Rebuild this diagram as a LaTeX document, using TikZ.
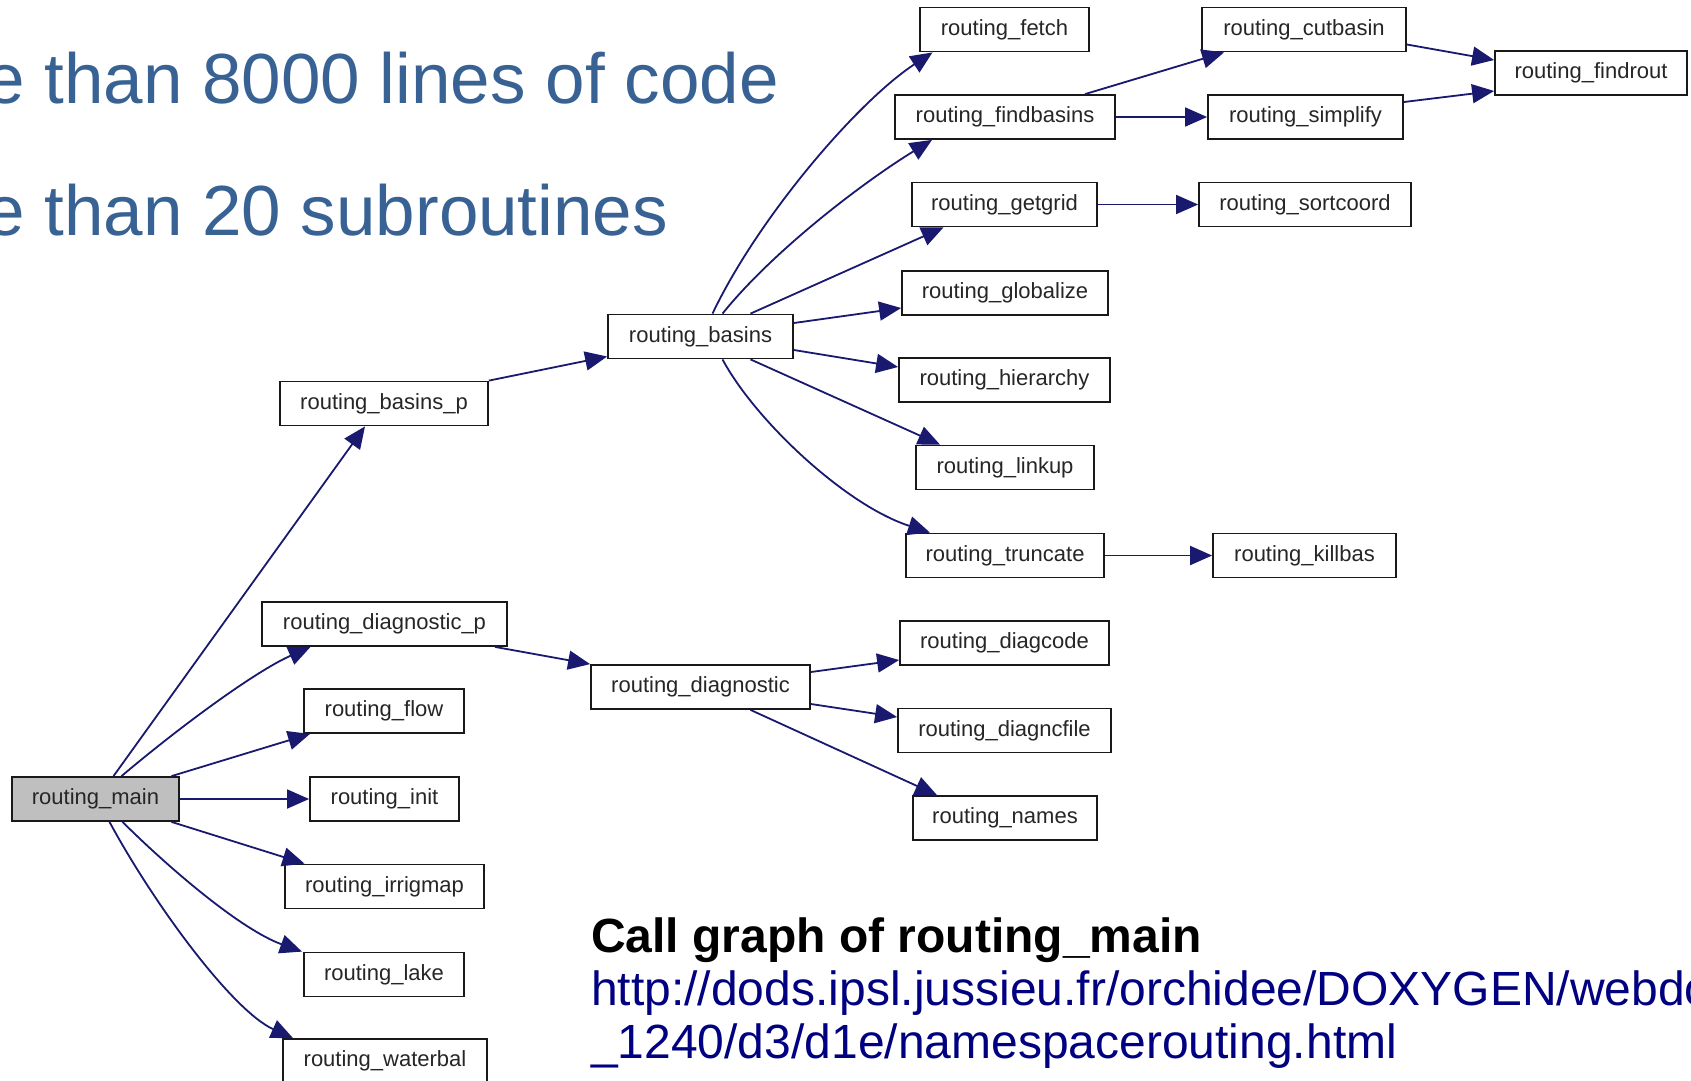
\documentclass[tikz,border=0pt]{standalone}
\usepackage{fontspec}
\setmainfont{Liberation Sans}
\usetikzlibrary{arrows.meta}
\definecolor{edgeblue}{HTML}{191970}
\definecolor{titleblue}{HTML}{386294}
\definecolor{urlblue}{HTML}{000080}
\definecolor{mainfill}{HTML}{BFBFBF}
\tikzset{
  fn/.style={draw=black!90, line width=1.8pt, fill=white, minimum height=44pt, inner sep=0pt,
    font=\fontsize{22}{26}\selectfont, text=black!85},
  call/.style={draw=edgeblue, line width=1.8pt, -{Triangle[length=22pt,width=19pt]}},
  bigtxt/.style={font=\fontsize{71}{80}\selectfont, text=titleblue, anchor=base west, inner sep=0pt},
  captxt/.style={anchor=base west, inner sep=0pt, font=\fontsize{48}{56}\selectfont},
}
\begin{document}
\begin{tikzpicture}[x=1pt,y=-1pt]
\useasboundingbox (0,0) rectangle (1691,1080);
\fill[white] (0,0) rectangle (1691,1080);

% header text (cut at left edge, as in the reference)
\node[bigtxt] (l1) at (-15,103) {e than 8000 lines of code};
\node[bigtxt] (l2) at (-15,235) {e than 20 subroutines};

% nodes
\node[fn, minimum width=169pt] (fetch) at (1004.5,29.5) {routing\_fetch};
\node[fn, minimum width=204pt] (cutbasin) at (1304,29.5) {routing\_cutbasin};
\node[fn, minimum width=192pt] (findrout) at (1591,73) {routing\_findrout};
\node[fn, minimum width=220pt] (findbasins) at (1005,117) {routing\_findbasins};
\node[fn, minimum width=195pt] (simplify) at (1305.5,117) {routing\_simplify};
\node[fn, minimum width=185pt] (getgrid) at (1004.5,204.5) {routing\_getgrid};
\node[fn, minimum width=212pt] (sortcoord) at (1305,204.5) {routing\_sortcoord};
\node[fn, minimum width=206pt] (globalize) at (1005,293) {routing\_globalize};
\node[fn, minimum width=185pt] (basins) at (700.5,336.5) {routing\_basins};
\node[fn, minimum width=211pt] (hierarchy) at (1004.5,380) {routing\_hierarchy};
\node[fn, minimum width=208pt] (basinsp) at (384,403.5) {routing\_basins\_p};
\node[fn, minimum width=178pt] (linkup) at (1005,467.5) {routing\_linkup};
\node[fn, minimum width=198pt] (truncate) at (1005,555.5) {routing\_truncate};
\node[fn, minimum width=183pt] (killbas) at (1304.5,555.5) {routing\_killbas};
\node[fn, minimum width=245pt] (diagp) at (384.5,624) {routing\_diagnostic\_p};
\node[fn, minimum width=209pt] (diagcode) at (1004.5,643) {routing\_diagcode};
\node[fn, minimum width=219pt] (diagnostic) at (700.5,687) {routing\_diagnostic};
\node[fn, minimum width=160pt] (flow) at (384,711) {routing\_flow};
\node[fn, minimum width=213pt] (diagncfile) at (1004.5,730.5) {routing\_diagncfile};
\node[fn, minimum width=167pt, fill=mainfill] (main) at (95.5,799) {routing\_main};
\node[fn, minimum width=149pt] (init) at (384.5,799) {routing\_init};
\node[fn, minimum width=184pt] (names) at (1005,818) {routing\_names};
\node[fn, minimum width=199pt] (irrigmap) at (384.5,886.5) {routing\_irrigmap};
\node[fn, minimum width=160pt] (lake) at (384,974.5) {routing\_lake};
\node[fn, minimum width=204pt] (waterbal) at (385,1061) {routing\_waterbal};

% edges from routing_main
\draw[call] ([xshift=18pt]main.north) -- ([xshift=-19pt]basinsp.south);
\draw[call] ([xshift=26pt]main.north) .. controls (182,725) and (256,671) .. ([xshift=-74pt]diagp.south);
\draw[call] ([xshift=76pt]main.north) -- ([xshift=-74pt]flow.south);
\draw[call] (main.east) -- (init.west);
\draw[call] ([xshift=76pt]main.south) -- ([xshift=-80pt]irrigmap.north);
\draw[call] ([xshift=27pt]main.south) .. controls (172,871) and (242,930) .. ([xshift=-82pt]lake.north);
\draw[call] ([xshift=14pt]main.south) .. controls (155,906) and (233,1011) .. ([xshift=-92pt]waterbal.north);

% second level
\draw[call] (basinsp.north east) -- ([yshift=-20pt]basins.west);
\draw[call] ([xshift=110.5pt]diagp.south) -- (diagnostic.north west);

% from routing_basins
\draw[call] ([xshift=12pt]basins.north) .. controls (758,218) and (857,102) .. ([xshift=-72pt]fetch.south);
\draw[call] ([xshift=22pt]basins.north) .. controls (773,251) and (862,183) .. ([xshift=-73pt]findbasins.south);
\draw[call] ([xshift=50pt]basins.north) -- ([xshift=-61pt]getgrid.south);
\draw[call] ([yshift=13.5pt]basins.east) -- ([yshift=-15pt]globalize.west);
\draw[call] ([yshift=-13.5pt]basins.east) -- ([yshift=13pt]hierarchy.west);
\draw[call] ([xshift=50pt]basins.south) -- ([xshift=-65pt]linkup.north);
\draw[call] ([xshift=22pt]basins.south) .. controls (755,420) and (845,505) .. ([xshift=-75pt]truncate.north);

% third level
\draw[call] ([xshift=80pt]findbasins.north) -- ([xshift=-80pt]cutbasin.south);
\draw[call] (findbasins.east) -- (simplify.west);
\draw[call] ([yshift=-15pt]cutbasin.east) -- ([yshift=13pt]findrout.west);
\draw[call] ([yshift=15pt]simplify.east) -- ([yshift=-18pt]findrout.west);
\draw[call] (getgrid.east) -- (sortcoord.west);
\draw[call] (truncate.east) -- (killbas.west);

% from routing_diagnostic
\draw[call] ([yshift=15pt]diagnostic.east) -- ([yshift=-17pt]diagcode.west);
\draw[call] ([yshift=-17pt]diagnostic.east) -- ([yshift=13.5pt]diagncfile.west);
\draw[call] ([xshift=50pt]diagnostic.south) -- ([xshift=-68pt]names.north);

% caption
\node[captxt, font=\fontsize{48}{56}\selectfont\bfseries] (cap) at (591,952) {Call graph of routing\_main};
\node[captxt, text=urlblue] (url1) at (591,1005) {http://dods.ipsl.jussieu.fr/orchidee/DOXYGEN/webdoc};
\node[captxt, text=urlblue] (url2) at (591,1058) {\_1240/d3/d1e/namespacerouting.html};
\end{tikzpicture}
\end{document}
